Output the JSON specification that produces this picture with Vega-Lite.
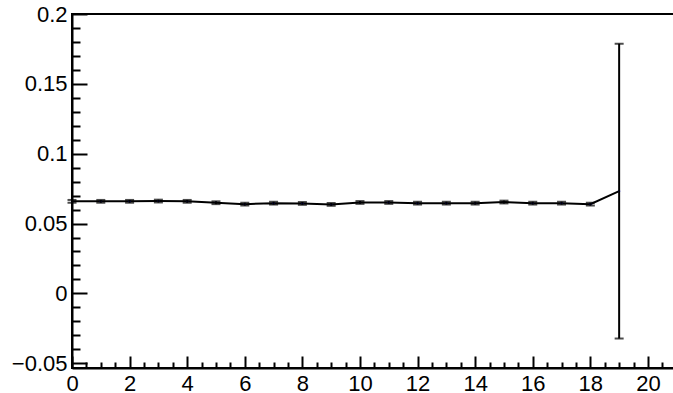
{
  "$schema": "https://vega.github.io/schema/vega-lite/v6.json",
  "autosize": {"type": "none"},
  "padding": {"left": 72, "top": 14, "right": 0, "bottom": 25},
  "width": 620,
  "height": 354,
  "background": "white",
  "config": {
    "view": {"stroke": "black", "strokeWidth": 2},
    "axis": {
      "labelFont": "Liberation Sans",
      "labelFontSize": 22,
      "labelColor": "black",
      "domainColor": "black",
      "domainWidth": 2,
      "tickColor": "black",
      "tickWidth": 2,
      "grid": false,
      "labelFlush": false,
      "labelOverlap": false,
      "title": null
    }
  },
  "data": {
    "values": [
      {"x": 0, "y": 0.0659, "err": 0.001},
      {"x": 1, "y": 0.0659, "err": 0.001},
      {"x": 2, "y": 0.0659, "err": 0.001},
      {"x": 3, "y": 0.0661, "err": 0.001},
      {"x": 4, "y": 0.0659, "err": 0.001},
      {"x": 5, "y": 0.0649, "err": 0.001},
      {"x": 6, "y": 0.0639, "err": 0.001},
      {"x": 7, "y": 0.0646, "err": 0.001},
      {"x": 8, "y": 0.0644, "err": 0.001},
      {"x": 9, "y": 0.0637, "err": 0.001},
      {"x": 10, "y": 0.0651, "err": 0.001},
      {"x": 11, "y": 0.0651, "err": 0.001},
      {"x": 12, "y": 0.0646, "err": 0.001},
      {"x": 13, "y": 0.0646, "err": 0.001},
      {"x": 14, "y": 0.0646, "err": 0.001},
      {"x": 15, "y": 0.0654, "err": 0.001},
      {"x": 16, "y": 0.0646, "err": 0.001},
      {"x": 17, "y": 0.0646, "err": 0.001},
      {"x": 18, "y": 0.0639, "err": 0.001},
      {"x": 19, "y": 0.0732, "err": 0.1055}
    ]
  },
  "layer": [
    {
      "mark": {"type": "line", "color": "black", "strokeWidth": 2, "clip": true},
      "encoding": {
        "x": {
          "field": "x", "type": "quantitative",
          "scale": {"domain": [0, 21.53], "nice": false, "zero": false},
          "axis": {"orient": "bottom", "values": [0,2,4,6,8,10,12,14,16,18,20], "tickSize": -12, "labelPadding": 17, "labelBaseline": "top", "format": "d"}
        },
        "y": {
          "field": "y", "type": "quantitative",
          "scale": {"domain": [-0.0534, 0.2], "nice": false, "zero": false},
          "axis": {"orient": "left", "values": [-0.05, 0, 0.05, 0.1, 0.15, 0.2], "tickSize": -15, "labelPadding": 20, "format": "~g"}
        }
      }
    },
    {
      "mark": {"type": "point", "filled": true, "color": "#0000ff", "size": 5, "opacity": 1},
      "encoding": {
        "x": {"field": "x", "type": "quantitative",
          "axis": {"orient": "bottom", "values": [0.5,1,1.5,2.5,3,3.5,4.5,5,5.5,6.5,7,7.5,8.5,9,9.5,10.5,11,11.5,12.5,13,13.5,14.5,15,15.5,16.5,17,17.5,18.5,19,19.5,20.5,21], "tickSize": -6, "labels": false, "domain": false}
        },
        "y": {"field": "y", "type": "quantitative",
          "axis": {"orient": "left", "values": [-0.04,-0.03,-0.02,-0.01,0.01,0.02,0.03,0.04,0.06,0.07,0.08,0.09,0.11,0.12,0.13,0.14,0.16,0.17,0.18,0.19], "tickSize": -8, "labels": false, "domain": false}
        }
      }
    },
    {
      "mark": {"type": "errorbar", "color": "black", "thickness": 2, "ticks": {"size": 9, "thickness": 2, "color": "black"}},
      "encoding": {
        "x": {"field": "x", "type": "quantitative", "axis": null},
        "y": {"field": "y", "type": "quantitative", "axis": null},
        "yError": {"field": "err"}
      }
    }
  ],
  "resolve": {"axis": {"x": "independent", "y": "independent"}}
}
